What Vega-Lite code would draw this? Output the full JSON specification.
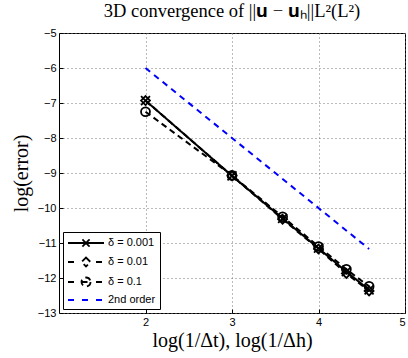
{
  "$schema": "https://vega.github.io/schema/vega-lite/v6.json",
  "width": 346,
  "height": 280,
  "autosize": "none",
  "padding": {"left": 59, "top": 33, "right": 3, "bottom": 45},
  "background": "white",
  "title": {
    "text": "3D convergence of ||𝐮 − 𝐮ₕ||L²(L²)",
    "font": "Liberation Serif",
    "fontSize": 18.5,
    "fontWeight": "normal",
    "anchor": "middle",
    "offset": 7,
    "color": "black"
  },
  "config": {
    "view": {"stroke": "black", "strokeWidth": 1},
    "axis": {
      "domain": false,
      "grid": true,
      "gridDash": [1, 3],
      "gridColor": "#777",
      "gridWidth": 1,
      "ticks": true,
      "tickSize": -4,
      "tickColor": "black",
      "labelPadding": 7,
      "labelOverlap": false,
      "labelFont": "Liberation Sans",
      "labelFontSize": 11,
      "labelColor": "black",
      "titleFont": "Liberation Serif",
      "titleFontSize": 20,
      "titleFontWeight": "normal",
      "titleColor": "black"
    }
  },
  "data": {
    "values": [
      {"series": "δ = 0.001", "x": 2, "y": -6.93},
      {"series": "δ = 0.001", "x": 3, "y": -9.08},
      {"series": "δ = 0.001", "x": 3.585, "y": -10.3},
      {"series": "δ = 0.001", "x": 4, "y": -11.15},
      {"series": "δ = 0.001", "x": 4.322, "y": -11.82},
      {"series": "δ = 0.001", "x": 4.585, "y": -12.34},
      {"series": "δ = 0.01", "x": 2, "y": -6.93},
      {"series": "δ = 0.01", "x": 3, "y": -9.08},
      {"series": "δ = 0.01", "x": 3.585, "y": -10.32},
      {"series": "δ = 0.01", "x": 4, "y": -11.17},
      {"series": "δ = 0.01", "x": 4.322, "y": -11.87},
      {"series": "δ = 0.01", "x": 4.585, "y": -12.37},
      {"series": "δ = 0.1", "x": 2, "y": -7.25},
      {"series": "δ = 0.1", "x": 3, "y": -9.07},
      {"series": "δ = 0.1", "x": 3.585, "y": -10.25},
      {"series": "δ = 0.1", "x": 4, "y": -11.1},
      {"series": "δ = 0.1", "x": 4.322, "y": -11.75},
      {"series": "δ = 0.1", "x": 4.585, "y": -12.24},
      {"series": "2nd order", "x": 2, "y": -6},
      {"series": "2nd order", "x": 4.585, "y": -11.17}
    ]
  },
  "layer": [
    {
      "mark": {"type": "line", "strokeWidth": 2},
      "encoding": {
        "x": {
          "field": "x", "type": "quantitative",
          "scale": {"domain": [1, 5], "nice": false, "zero": false},
          "axis": {"values": [2, 3, 4, 5], "tickCount": 10, "format": "d", "title": "log(1/Δt), log(1/Δh)", "titlePadding": 3}
        },
        "y": {
          "field": "y", "type": "quantitative",
          "scale": {"domain": [-13, -5], "nice": false, "zero": false},
          "axis": {"values": [-13, -12, -11, -10, -9, -8, -7, -6, -5], "tickCount": 12, "format": "d", "title": "log(error)", "titlePadding": 6}
        },
        "color": {
          "field": "series", "type": "nominal",
          "scale": {"domain": ["δ = 0.001", "δ = 0.01", "δ = 0.1", "2nd order"], "range": ["black", "black", "black", "#0000ff"]},
          "legend": {
            "title": null,
            "orient": "bottom-left",
            "offset": 4,
            "strokeColor": "black",
            "fillColor": "white",
            "padding": 4,
            "cornerRadius": 0,
            "symbolSize": 144,
            "symbolStrokeWidth": 1.8,
            "labelOffset": 27,
            "labelFont": "Liberation Sans",
            "labelFontSize": 11,
            "labelColor": "black",
            "rowPadding": 2,
            "encode": {
              "symbols": {
                "update": {
                  "shape": {"signal": "datum.value === 'δ = 0.001' ? 'M-1,0L5,0M1.4,-0.6L2.6,0.6M1.4,0.6L2.6,-0.6' : datum.value === 'δ = 0.01' ? 'M-1,0L0.33,0M3.67,0L5,0M2,-0.75L2.75,0L2,0.75L1.25,0Z' : datum.value === 'δ = 0.1' ? 'M-1,0L0.33,0M3.67,0L5,0M2.75,0A0.75,0.75,0,1,1,1.25,0A0.75,0.75,0,1,1,2.75,0ZM1.25,0L2.75,0' : 'M-1,0L0.17,0M1.33,0L2.67,0M3.67,0L5,0'"},
                  "fill": {"value": "transparent"},
                  "strokeDash": {"value": [1, 0]}
                }
              }
            }
          }
        },
        "strokeDash": {
          "field": "series", "type": "nominal",
          "scale": {"domain": ["δ = 0.001", "δ = 0.01", "δ = 0.1", "2nd order"], "range": [[1, 0], [6, 4], [6, 4], [6, 5]]},
          "legend": null
        }
      }
    },
    {
      "transform": [{"filter": "datum.series !== '2nd order'"}],
      "mark": {"type": "point", "filled": false, "strokeWidth": 1.8, "size": 80, "color": "black", "opacity": 1},
      "encoding": {
        "x": {"field": "x", "type": "quantitative"},
        "y": {"field": "y", "type": "quantitative"},
        "shape": {
          "field": "series", "type": "nominal",
          "scale": {"domain": ["δ = 0.001", "δ = 0.01", "δ = 0.1"], "range": ["M-1,-1L1,1M-1,1L1,-1", "diamond", "circle"]},
          "legend": null
        }
      }
    }
  ]
}
